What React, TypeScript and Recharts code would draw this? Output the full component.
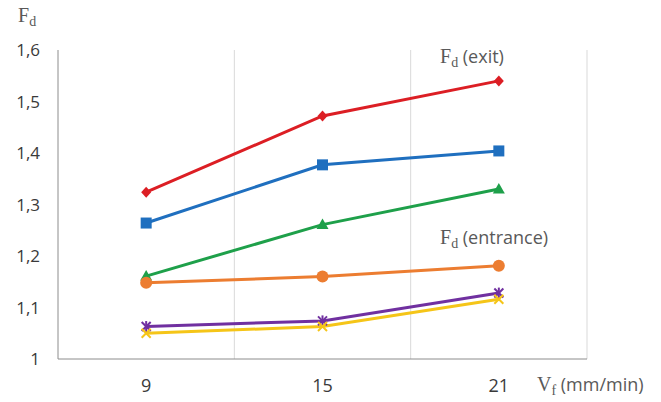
import React from "react"
import {
  LineChart,
  Line,
  XAxis,
  YAxis,
  CartesianGrid,
  Customized
} from "recharts"

// feed rate Vf (mm/min)
const FEED_RATES = [9, 15, 21]
const GRID_X = [12, 18, 24]
const Y_TICKS = [1, 1.1, 1.2, 1.3, 1.4, 1.5, 1.6]

// Fd values
const exitRed = [1.324, 1.472, 1.54]
const exitBlue = [1.264, 1.377, 1.404]
const exitGreen = [1.161, 1.261, 1.33]
const entOrange = [1.148, 1.16, 1.181]
const entPurple = [1.063, 1.074, 1.128]
const entYellow = [1.05, 1.063, 1.116]

const data = FEED_RATES.map((vf, i) => ({
  vf,
  red: exitRed[i],
  blue: exitBlue[i],
  green: exitGreen[i],
  orange: entOrange[i],
  purple: entPurple[i],
  yellow: entYellow[i]
}))

const SANS = "'Open Sans', Lato, sans-serif"
const SERIF = "'Liberation Serif', 'DejaVu Serif', serif"
const TEXT = "#595959"

const Diamond = ({ cx, cy, fill }: any) => (
  <path d={`M${cx},${cy - 5.5}L${cx + 5},${cy}L${cx},${cy + 5.5}L${cx - 5},${cy}Z`} fill={fill} />
)
const Square = ({ cx, cy, fill }: any) => (
  <rect x={cx - 5.5} y={cy - 5.5} width={11} height={11} fill={fill} />
)
const Triangle = ({ cx, cy, fill }: any) => (
  <path d={`M${cx},${cy - 6}L${cx + 6},${cy + 4.5}L${cx - 6},${cy + 4.5}Z`} fill={fill} />
)
const Circle = ({ cx, cy, fill }: any) => <circle cx={cx} cy={cy} r={6} fill={fill} />
const Star = ({ cx, cy, fill }: any) => (
  <g stroke={fill} strokeWidth={2}>
    <line x1={cx - 4.5} y1={cy - 4.5} x2={cx + 4.5} y2={cy + 4.5} />
    <line x1={cx - 4.5} y1={cy + 4.5} x2={cx + 4.5} y2={cy - 4.5} />
    <line x1={cx} y1={cy - 5.5} x2={cx} y2={cy + 5.5} />
  </g>
)
const Cross = ({ cx, cy, fill }: any) => (
  <g stroke={fill} strokeWidth={2}>
    <line x1={cx - 4.5} y1={cy - 4.5} x2={cx + 4.5} y2={cy + 4.5} />
    <line x1={cx - 4.5} y1={cy + 4.5} x2={cx + 4.5} y2={cy - 4.5} />
  </g>
)

const series = [
  { key: "red", color: "#dc1e24", Shape: Diamond },
  { key: "blue", color: "#1f6fbf", Shape: Square },
  { key: "green", color: "#1ea04a", Shape: Triangle },
  { key: "orange", color: "#ec7d31", Shape: Circle },
  { key: "purple", color: "#7030a0", Shape: Star },
  { key: "yellow", color: "#f5c518", Shape: Cross }
]

const FdText = ({ x, y, rest }: { x: number; y: number; rest?: string }) => (
  <text x={x} y={y} fill={TEXT}>
    <tspan fontFamily={SERIF} fontSize={20}>F</tspan>
    <tspan fontFamily={SERIF} fontSize={14} dy={4}>d</tspan>
    {rest && (
      <tspan fontFamily={SANS} fontSize={18} dy={-4}>{rest}</tspan>
    )}
  </text>
)

const Annotations = () => (
  <g>
    <FdText x={18} y={22} />
    <FdText x={440} y={63} rest=" (exit)" />
    <FdText x={440} y={244} rest=" (entrance)" />
    <text x={537} y={391} fill={TEXT}>
      <tspan fontFamily={SERIF} fontSize={20}>V</tspan>
      <tspan fontFamily={SERIF} fontSize={14} dy={4}>f</tspan>
      <tspan fontFamily={SANS} fontSize={18} dy={-4}> (mm/min)</tspan>
    </text>
  </g>
)

export default function App() {
  return (
    <div style={{ position: "absolute", left: 0, top: 0, background: "#fff" }}>
      <LineChart
        width={661}
        height={402}
        data={data}
        margin={{ top: 50, right: 74, bottom: 13, left: 0 }}
      >
        <CartesianGrid
          horizontal={false}
          stroke="#d9d9d9"
          verticalCoordinatesGenerator={({ offset }: any) =>
            GRID_X.map((v) => offset.left + ((v - 6) / 18) * offset.width)
          }
        />
        <XAxis
          dataKey="vf"
          type="number"
          domain={[6, 24]}
          ticks={FEED_RATES}
          height={30}
          tickLine={false}
          tickMargin={14}
          stroke="#8c8c8c"
          tick={{ fill: "#3a3a3a", fontSize: 18, fontFamily: SANS }}
        />
        <YAxis
          type="number"
          domain={[1, 1.6]}
          ticks={Y_TICKS}
          width={58}
          tickLine={false}
          tickSize={0}
          tickMargin={18}
          stroke="#8c8c8c"
          tick={{ fill: "#3a3a3a", fontSize: 17, fontFamily: SANS }}
          tickFormatter={(v: number) => (v === 1 ? "1" : v.toFixed(1).replace(".", ","))}
        />
        {series.map(({ key, color, Shape }) => (
          <Line
            key={key}
            dataKey={key}
            stroke={color}
            strokeWidth={3}
            isAnimationActive={false}
            dot={(p: any) => <Shape key={`${key}-${p.index}`} cx={p.cx} cy={p.cy} fill={color} />}
            activeDot={false}
          />
        ))}
        <Customized component={Annotations} />
      </LineChart>
    </div>
  )
}
